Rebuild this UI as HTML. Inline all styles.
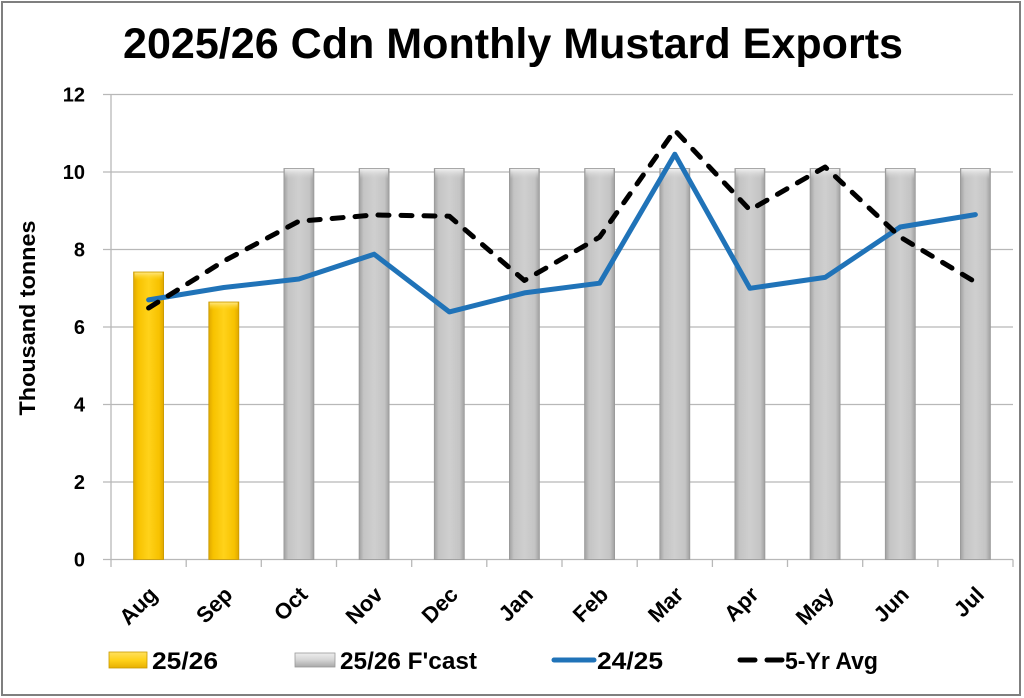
<!DOCTYPE html>
<html>
<head>
<meta charset="utf-8">
<style>
  html,body{margin:0;padding:0;background:#fff;}
  svg{display:block;}
  text{font-family:"Liberation Sans",Arial,sans-serif;font-weight:bold;fill:#000;}
</style>
</head>
<body>
<svg width="1024" height="698" viewBox="0 0 1024 698" xmlns="http://www.w3.org/2000/svg">
  <defs>
    <linearGradient id="gold" x1="0" y1="0" x2="1" y2="0">
      <stop offset="0" stop-color="#E0A800"/>
      <stop offset="0.15" stop-color="#F7C200"/>
      <stop offset="0.5" stop-color="#FFD21A"/>
      <stop offset="0.85" stop-color="#F7C200"/>
      <stop offset="1" stop-color="#E0A800"/>
    </linearGradient>
    <linearGradient id="gray" x1="0" y1="0" x2="1" y2="0">
      <stop offset="0" stop-color="#A0A0A0"/>
      <stop offset="0.15" stop-color="#C4C4C4"/>
      <stop offset="0.5" stop-color="#CFCFCF"/>
      <stop offset="0.85" stop-color="#C4C4C4"/>
      <stop offset="1" stop-color="#A0A0A0"/>
    </linearGradient>
    <linearGradient id="goldtop" x1="0" y1="0" x2="0" y2="1">
      <stop offset="0" stop-color="#FFE680"/>
      <stop offset="1" stop-color="#FFD21A" stop-opacity="0"/>
    </linearGradient>
    <linearGradient id="graytop" x1="0" y1="0" x2="0" y2="1">
      <stop offset="0" stop-color="#F0F0F0"/>
      <stop offset="1" stop-color="#CFCFCF" stop-opacity="0"/>
    </linearGradient>
    <linearGradient id="goldleg" x1="0" y1="0" x2="0" y2="1">
      <stop offset="0" stop-color="#FFE060"/>
      <stop offset="0.5" stop-color="#FFD21A"/>
      <stop offset="1" stop-color="#E8B000"/>
    </linearGradient>
    <linearGradient id="grayleg" x1="0" y1="0" x2="0" y2="1">
      <stop offset="0" stop-color="#EEEEEE"/>
      <stop offset="0.5" stop-color="#D4D4D4"/>
      <stop offset="1" stop-color="#A8A8A8"/>
    </linearGradient>
  </defs>

  <!-- outer border -->
  <rect x="2" y="2" width="1018" height="693" fill="#fff" stroke="#7f7f7f" stroke-width="2"/>

  <!-- title -->
  <text x="123" y="58" font-size="43" textLength="780" lengthAdjust="spacingAndGlyphs">2025/26 Cdn Monthly Mustard Exports</text>

  <!-- gridlines -->
  <g stroke="#b8b8b8" stroke-width="1.3">
    <line x1="103" y1="94.5" x2="1013" y2="94.5"/>
    <line x1="103" y1="172" x2="1013" y2="172"/>
    <line x1="103" y1="249.5" x2="1013" y2="249.5"/>
    <line x1="103" y1="327" x2="1013" y2="327"/>
    <line x1="103" y1="404.5" x2="1013" y2="404.5"/>
    <line x1="103" y1="482" x2="1013" y2="482"/>
    <line x1="103" y1="559.5" x2="1013" y2="559.5"/>
    <line x1="111" y1="94.5" x2="111" y2="567"/>
    <line x1="186.2" y1="559.5" x2="186.2" y2="567"/>
    <line x1="261.3" y1="559.5" x2="261.3" y2="567"/>
    <line x1="336.5" y1="559.5" x2="336.5" y2="567"/>
    <line x1="411.7" y1="559.5" x2="411.7" y2="567"/>
    <line x1="486.8" y1="559.5" x2="486.8" y2="567"/>
    <line x1="562" y1="559.5" x2="562" y2="567"/>
    <line x1="637.2" y1="559.5" x2="637.2" y2="567"/>
    <line x1="712.4" y1="559.5" x2="712.4" y2="567"/>
    <line x1="787.5" y1="559.5" x2="787.5" y2="567"/>
    <line x1="862.7" y1="559.5" x2="862.7" y2="567"/>
    <line x1="937.9" y1="559.5" x2="937.9" y2="567"/>
    <line x1="1013" y1="559.5" x2="1013" y2="567"/>
  </g>

  <!-- y tick labels -->
  <g font-size="20" text-anchor="end">
    <text x="85" y="101.5">12</text>
    <text x="85" y="179">10</text>
    <text x="85" y="256.5">8</text>
    <text x="85" y="334">6</text>
    <text x="85" y="411.5">4</text>
    <text x="85" y="489">2</text>
    <text x="85" y="566.5">0</text>
  </g>

  <!-- y axis title -->
  <text transform="translate(35,318) rotate(-90)" font-size="22" text-anchor="middle" textLength="195" lengthAdjust="spacingAndGlyphs">Thousand tonnes</text>

  <!-- gold bars -->
  <g stroke="#C99A00" stroke-width="0.8">
    <rect x="133.6" y="272" width="30" height="287.5" fill="url(#gold)"/>
    <rect x="208.8" y="302" width="30" height="257.5" fill="url(#gold)"/>
  </g>
  <rect x="134.5" y="272.5" width="28" height="8" fill="url(#goldtop)"/>
  <rect x="209.7" y="302.5" width="28" height="8" fill="url(#goldtop)"/>

  <!-- gray bars -->
  <g stroke="#999" stroke-width="0.8" fill="url(#gray)">
    <rect x="283.9" y="168.5" width="30" height="391"/>
    <rect x="359.1" y="168.5" width="30" height="391"/>
    <rect x="434.3" y="168.5" width="30" height="391"/>
    <rect x="509.4" y="168.5" width="30" height="391"/>
    <rect x="584.6" y="168.5" width="30" height="391"/>
    <rect x="659.8" y="168.5" width="30" height="391"/>
    <rect x="734.9" y="168.5" width="30" height="391"/>
    <rect x="810.1" y="168.5" width="30" height="391"/>
    <rect x="885.3" y="168.5" width="30" height="391"/>
    <rect x="960.4" y="168.5" width="30" height="391"/>
  </g>
  <g fill="url(#graytop)">
    <rect x="284.8" y="169" width="28" height="10"/>
    <rect x="360" y="169" width="28" height="10"/>
    <rect x="435.2" y="169" width="28" height="10"/>
    <rect x="510.3" y="169" width="28" height="10"/>
    <rect x="585.5" y="169" width="28" height="10"/>
    <rect x="660.7" y="169" width="28" height="10"/>
    <rect x="735.8" y="169" width="28" height="10"/>
    <rect x="811" y="169" width="28" height="10"/>
    <rect x="886.2" y="169" width="28" height="10"/>
    <rect x="961.3" y="169" width="28" height="10"/>
  </g>

  <!-- 24/25 blue line -->
  <polyline fill="none" stroke="#2073B8" stroke-width="5" stroke-linejoin="round" stroke-linecap="round"
    points="148.6,299.9 223.8,287.5 298.9,279 374.1,254.2 449.3,311.9 524.4,292.9 599.6,283.2 674.8,154.2 749.9,288.3 825.1,277.4 900.3,227 975.4,214.6"/>

  <!-- 5-yr avg dashed -->
  <polyline fill="none" stroke="#000" stroke-width="5" stroke-linejoin="round" stroke-linecap="round" stroke-dasharray="11 12"
    points="148.6,308 223.8,261.1 298.9,221.2 374.1,215 449.3,216.2 524.4,280.5 599.6,237.1 674.8,130.2 749.9,210 825.1,167 900.3,237.1 975.4,282.1"/>

  <!-- x labels -->
  <g font-size="22" text-anchor="end">
    <text transform="translate(158.6,596) rotate(-45)">Aug</text>
    <text transform="translate(233.8,596) rotate(-45)">Sep</text>
    <text transform="translate(308.9,596) rotate(-45)">Oct</text>
    <text transform="translate(384.1,596) rotate(-45)">Nov</text>
    <text transform="translate(459.3,596) rotate(-45)">Dec</text>
    <text transform="translate(534.4,596) rotate(-45)">Jan</text>
    <text transform="translate(609.6,596) rotate(-45)">Feb</text>
    <text transform="translate(684.8,596) rotate(-45)">Mar</text>
    <text transform="translate(759.9,596) rotate(-45)">Apr</text>
    <text transform="translate(835.1,596) rotate(-45)">May</text>
    <text transform="translate(910.3,596) rotate(-45)">Jun</text>
    <text transform="translate(985.4,596) rotate(-45)">Jul</text>
  </g>

  <!-- legend -->
  <rect x="109" y="652" width="38" height="16" fill="url(#goldleg)" stroke="#C99A00" stroke-width="0.8"/>
  <text x="152" y="669" font-size="24" textLength="66" lengthAdjust="spacingAndGlyphs">25/26</text>
  <rect x="295" y="653" width="40" height="14" fill="url(#grayleg)" stroke="#999" stroke-width="0.8"/>
  <text x="340" y="669" font-size="24" textLength="137" lengthAdjust="spacingAndGlyphs">25/26 F'cast</text>
  <line x1="554" y1="660" x2="594" y2="660" stroke="#2073B8" stroke-width="5" stroke-linecap="round"/>
  <text x="597" y="669" font-size="24" textLength="66" lengthAdjust="spacingAndGlyphs">24/25</text>
  <line x1="740" y1="660" x2="755" y2="660" stroke="#000" stroke-width="5" stroke-linecap="round"/>
  <line x1="767" y1="660" x2="782" y2="660" stroke="#000" stroke-width="5" stroke-linecap="round"/>
  <text x="785" y="669" font-size="24" textLength="93" lengthAdjust="spacingAndGlyphs">5-Yr Avg</text>
</svg>
</body>
</html>
